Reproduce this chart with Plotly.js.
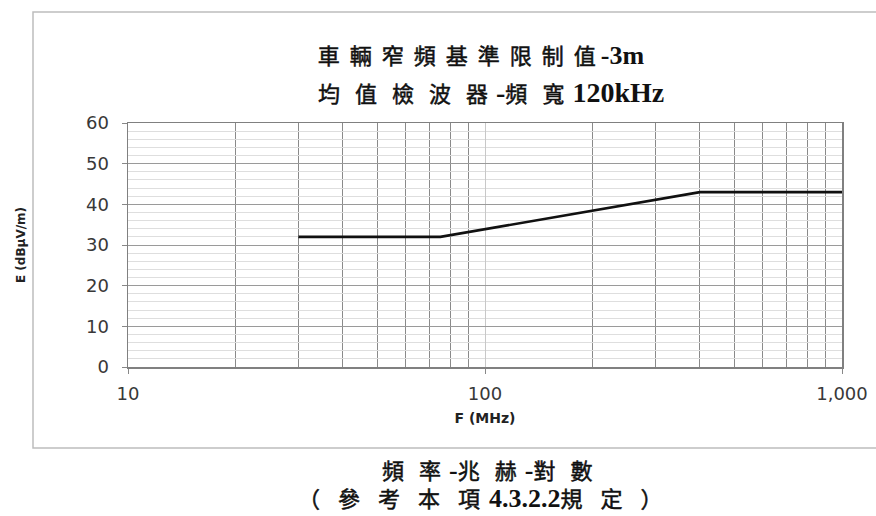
<!DOCTYPE html>
<html>
<head>
<meta charset="utf-8">
<script src="https://cdn.plot.ly/plotly-3.0.1.min.js"></script>
<style>html,body{margin:0;padding:0;background:#fff;}#chart{width:876px;height:516px;}</style>
</head>
<body>
<div id="chart"></div>
<script>
// ---- data ----
var freqMHz = [30, 75, 400, 1000];
var limitDb = [32, 32, 43, 43];
var xTickVals = [10, 100, 1000];
var xTickText = ['10', '100', '1,000'];
var xMinorVals = [20, 30, 40, 50, 60, 70, 80, 90, 200, 300, 400, 500, 600, 700, 800, 900];
var titleLine1 = '車輛窄頻基準限制值-3m';
var titleLine2 = '均值檢波器-頻寬120kHz';
var captionLine1 = '頻率-兆赫-對數';
var captionLine2 = '（參考本項4.3.2.2規定）';
var xTitle = 'F (MHz)';
var yTitle = 'E (dBμV/m)';

// ---- layout helpers ----
var W = 876, H = 516;
var L = 128, R = 842, T = 123, B = 367;
function px(x) { return (x - L) / (R - L); }
function py(y) { return (B - y) / (B - T); }

var cjk = '"Liberation Serif", "Noto Sans CJK TC", serif';
var sans = '"DejaVu Sans", "Liberation Sans", sans-serif';

// wrap CJK runs with letter spacing (medium weight), Latin runs larger and bold (the source font is wide)
function styled(s, cjkSpacing, latinSize) {
  var out = '';
  var re = /([\u3000-\u9fff\uff00-\uffef]+)|([^\u3000-\u9fff\uff00-\uffef]+)/g, m;
  var st = 'stroke:#111;stroke-width:0.5px';
  while ((m = re.exec(s)) !== null) {
    if (m[1]) {
      var run = m[1];
      var atEnd = re.lastIndex >= s.length;
      if (!atEnd && run.length > 1) {
        out += '<span style="letter-spacing:' + cjkSpacing + 'px;' + st + '">' + run.slice(0, -1) + '</span>' +
               '<span style="letter-spacing:' + Math.round(cjkSpacing / 2) + 'px;' + st + '">' + run.slice(-1) + '</span>';
      } else {
        out += '<span style="letter-spacing:' + cjkSpacing + 'px;' + st + '">' + run + '</span>';
      }
    } else {
      out += '<span style="font-size:' + latinSize + 'px;font-weight:bold">' + m[2] + '</span>';
    }
  }
  return out;
}

var trace = {
  x: freqMHz,
  y: limitDb,
  type: 'scatter',
  mode: 'lines',
  line: {color: '#111', width: 2.6},
  hoverinfo: 'x+y',
  showlegend: false
};

var titleFont = {family: cjk, size: 22, color: '#111'};

var layout = {
  width: W, height: H,
  margin: {l: L, r: W - R, t: T, b: H - B, pad: 0},
  paper_bgcolor: '#fff',
  plot_bgcolor: '#fff',
  showlegend: false,
  title: {
    text: styled(titleLine1, 10, 26),
    font: titleFont,
    xref: 'paper', x: px(481), xanchor: 'center',
    yref: 'container', y: 1 - 56 / H, yanchor: 'middle'
  },
  xaxis: {
    type: 'log',
    range: [1, 3],
    tickvals: xTickVals,
    ticktext: xTickText,
    ticks: 'outside', ticklen: 5, tickcolor: '#888', tickwidth: 1,
    ticklabelstandoff: 5,
    tickfont: {family: sans, size: 18, color: '#383838'},
    showgrid: true, gridcolor: '#c8c8c8', gridwidth: 1,
    minor: {tickvals: xMinorVals, showgrid: true, gridcolor: '#8a8a8a', gridwidth: 1, ticks: ''},
    showline: true, linecolor: '#808080', linewidth: 1.5, mirror: true,
    zeroline: false,
    title: {text: xTitle, font: {family: sans, size: 14, color: '#222', weight: 'bold'}, standoff: 10}
  },
  yaxis: {
    range: [0, 60],
    dtick: 10, tick0: 0,
    ticks: 'outside', ticklen: 5, tickcolor: '#888', tickwidth: 1,
    ticklabelstandoff: 9,
    tickfont: {family: sans, size: 18, color: '#383838'},
    showgrid: true, gridcolor: '#9a9a9a', gridwidth: 1,
    minor: {dtick: 2, showgrid: true, gridcolor: '#dedede', gridwidth: 1, ticks: ''},
    showline: true, linecolor: '#808080', linewidth: 1.5, mirror: true,
    zeroline: false,
    title: {text: yTitle, font: {family: sans, size: 12, color: '#222', weight: 'bold'}, standoff: 58}
  },
  shapes: [{
    type: 'rect', xref: 'paper', yref: 'paper', layer: 'below',
    x0: px(33), x1: px(884), y0: py(448), y1: py(12),
    line: {color: '#bdbdbd', width: 1.5}, fillcolor: 'rgba(0,0,0,0)'
  }],
  annotations: [
    {text: styled(titleLine2, 15, 28), xref: 'paper', yref: 'paper', x: px(491), y: py(92),
     xanchor: 'center', yanchor: 'middle', showarrow: false, font: titleFont},
    {text: styled(captionLine1, 15, 26), xref: 'paper', yref: 'paper', x: px(495), y: py(470),
     xanchor: 'center', yanchor: 'middle', showarrow: false, font: titleFont},
    {text: styled(captionLine2, 18, 26), xref: 'paper', yref: 'paper', x: px(489), y: py(498),
     xanchor: 'center', yanchor: 'middle', showarrow: false, font: titleFont}
  ]
};

Plotly.newPlot('chart', [trace], layout, {displayModeBar: false, staticPlot: true});
</script>
</body>
</html>
